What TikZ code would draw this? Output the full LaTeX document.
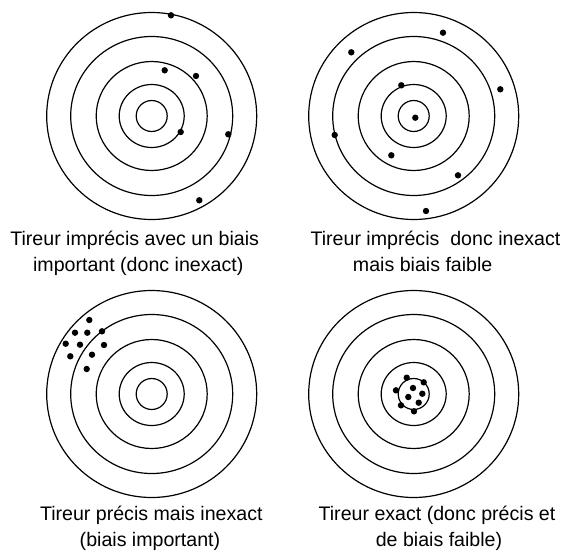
\documentclass[tikz,border=0pt]{standalone}
\usepackage{fontspec}
\setmainfont{Liberation Sans}
\begin{document}
\begin{tikzpicture}[x=1pt,y=-1pt,
  ring/.style={draw=black,line width=1.2pt},
  hit/.style={fill=black},
  lbl/.style={font=\fontsize{19.6}{23}\selectfont, inner sep=0pt, anchor=base}]
\useasboundingbox (0,0) rectangle (564,554);
\fill[white] (0,0) rectangle (564,554);
\foreach \cx/\cy/\n in {151.7/116/A, 413.7/116/B, 151.7/394/C, 413.7/394/D} {
  \coordinate (\n) at (\cx,\cy);
  \foreach \rx/\ry in {105/103.5, 81/79.5, 55.5/54.5, 32.5/31.5, 15.5/15.5}
    \draw[ring] (\n) ellipse [x radius=\rx pt, y radius=\ry pt];
}
% target A dots
\foreach \p/\q in {171/15.3, 164.7/70.3, 196/76, 180.7/132, 228.3/134.3, 199.3/200.3}
  \fill[hit] (\p,\q) circle [radius=3.2pt];
% target B dots
\foreach \p/\q in {443/32.7, 351.3/52.3, 500.3/89.3, 401.3/85.3, 415.3/117.7, 334.7/135, 391.3/155.3, 458/175.3, 426/211}
  \fill[hit] (\p,\q) circle [radius=3.2pt];
% target C dots
\foreach \p/\q in {89.3/320, 75/332.7, 87.3/332.7, 102/331.3, 65.7/343.7, 80/344.7, 104/345, 70.3/356.3, 92/354.7, 86.7/369}
  \fill[hit] (\p,\q) circle [radius=3.2pt];
% target D dots
\foreach \p/\q in {406.7/377.7, 423.7/382.3, 396/390.3, 413/388, 422.3/393.7, 408.3/397, 418.7/402.7, 401/405.3, 414/411.3}
  \fill[hit] (\p,\q) circle [radius=3.2pt];
% captions
\node[lbl] (a1) at (134.7,245.5) {Tireur imprécis avec un biais};
\node[lbl] (a2) at (138.2,271) {important (donc inexact)};
\node[lbl] (b1) at (435.5,245.5) {Tireur imprécis\ \ donc inexact};
\node[lbl] (b2) at (422.7,271) {mais biais faible};
\node[lbl] (c1) at (151.3,520.5) {Tireur précis mais inexact};
\node[lbl] (c2) at (150,546.5) {(biais important)};
\node[lbl] (d1) at (437,520.5) {Tireur exact (donc précis et};
\node[lbl] (d2) at (439,546.5) {de biais faible)};
\end{tikzpicture}
\end{document}
